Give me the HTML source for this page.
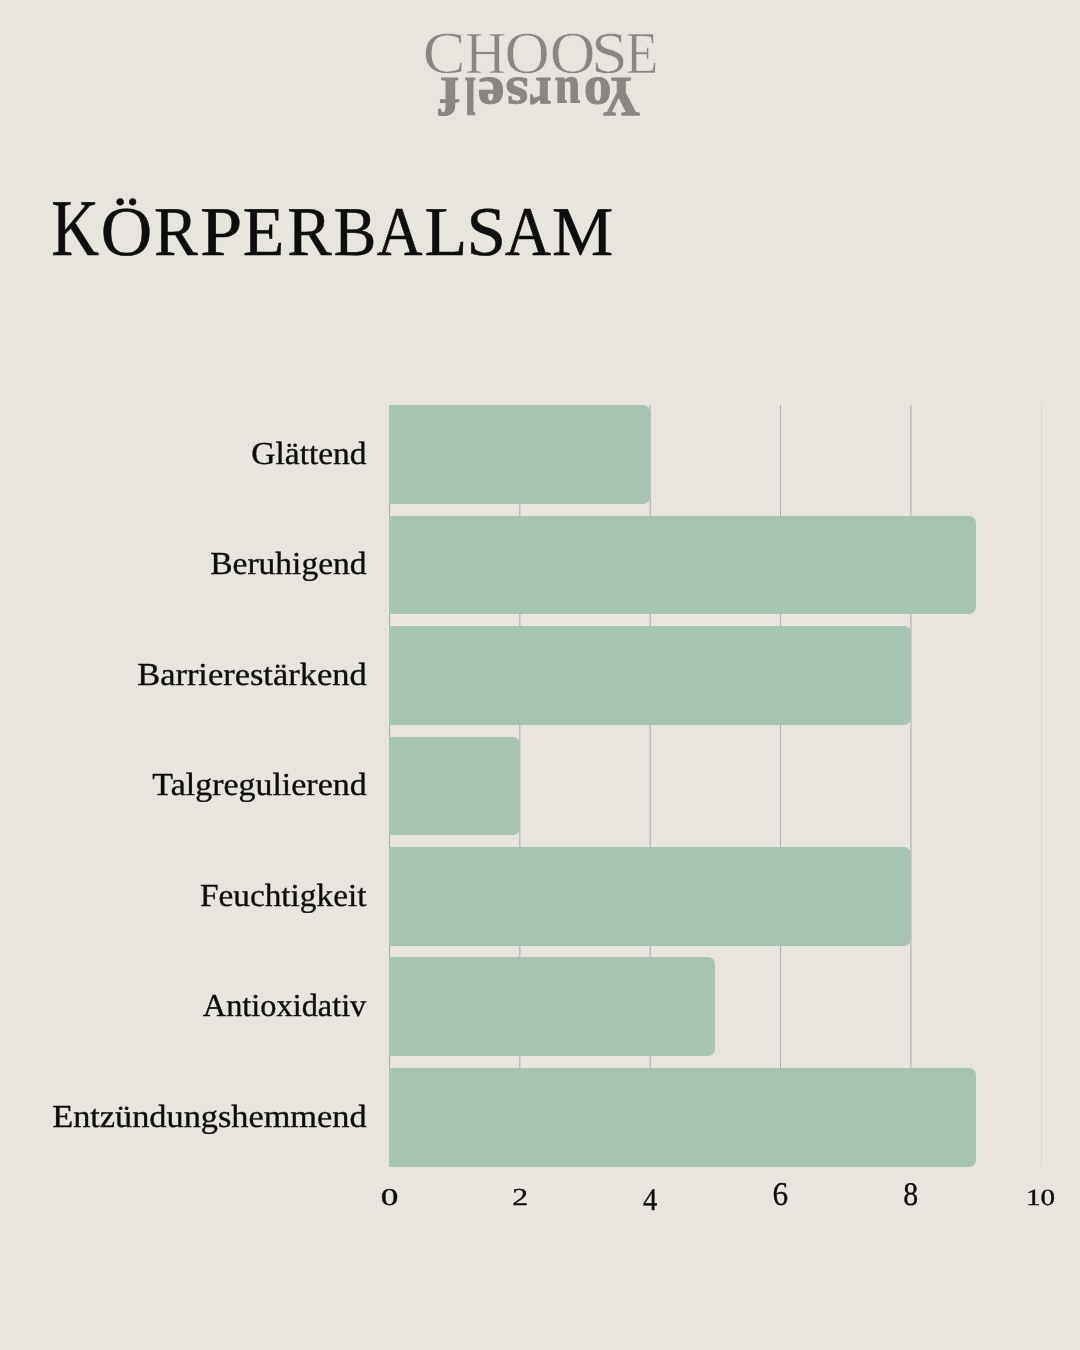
<!DOCTYPE html>
<html lang="de"><head><meta charset="utf-8"><title>Körperbalsam</title>
<style>
html,body{margin:0;padding:0}
body{width:1080px;height:1350px;background:#e8e5df;position:relative;overflow:hidden;font-family:"Liberation Serif",serif;color:#0d0d0d}
.t{position:absolute;left:0;top:0;white-space:nowrap;line-height:1;transform-origin:0 0;display:block;text-rendering:geometricPrecision}
.bar{position:absolute;background:#a7c3b2;border-radius:0 7px 7px 0;left:389.00px;height:98.80px}
.grid{position:absolute;width:1px;background:#acaaa5;top:405px;height:762px}
.logo{color:#8a8681}
.logo .c{-webkit-text-stroke:0.6px #e8e5df}
.logo .y{font-weight:700;-webkit-text-stroke:1.1px #8a8681}
h1,p{margin:0;font-weight:400}
h1 .t{-webkit-text-stroke:0.5px #0d0d0d}
p .t{-webkit-text-stroke:0.35px #0d0d0d}
.k{-webkit-text-stroke:0.35px #0d0d0d}
</style></head><body>

<div class="logo">
<div><span class="t c" style="font-size:58.3px;transform:translate(422.72px,23.43px) scale(1.0993,1.0227)">C</span><span class="t c" style="font-size:58.3px;transform:translate(464.99px,23.43px) scale(0.9694,1.0227)">H</span><span class="t c" style="font-size:58.3px;transform:translate(504.62px,23.43px) scale(1.0730,1.0227)">O</span><span class="t c" style="font-size:58.3px;transform:translate(549.79px,23.43px) scale(1.0855,1.0227)">O</span><span class="t c" style="font-size:58.3px;transform:translate(591.05px,23.43px) scale(1.1375,1.0227)">S</span><span class="t c" style="font-size:58.3px;transform:translate(625.67px,23.43px) scale(0.9110,1.0227)">E</span></div>
<div style="position:absolute;left:0;top:0;width:0;height:0;transform:rotate(180deg);transform-origin:538.95px 96.15px"><span class="t y" style="font-size:58.0px;transform:translate(437.77px,67.03px) scale(0.8924,0.9771)">Y</span><span class="t y" style="font-size:58.0px;transform:translate(466.44px,68.46px) scale(0.9523,0.9498)">o</span><span class="t y" style="font-size:58.0px;transform:translate(497.53px,69.68px) scale(0.7958,0.9222)">u</span><span class="t y" style="font-size:58.0px;transform:translate(526.47px,68.83px) scale(0.8488,0.9491)">r</span><span class="t y" style="font-size:58.0px;transform:translate(549.47px,68.46px) scale(1.0137,0.9453)">s</span><span class="t y" style="font-size:58.0px;transform:translate(573.51px,68.55px) scale(1.0289,0.9472)">e</span><span class="t y" style="font-size:58.0px;transform:translate(602.25px,70.43px) scale(0.6727,0.9125)">l</span><span class="t y" style="font-size:58.0px;transform:translate(618.56px,69.83px) scale(1.0398,0.9204)">f</span></div>
</div>
<h1><span class="t" style="font-size:80.0px;transform:translate(51.35px,188.26px) scale(0.8274,1.0057)">K</span><span class="t" style="font-size:69.5px;transform:translate(100.64px,197.53px) scale(1.0266,1.0038)">Ö</span><span class="t" style="font-size:69.5px;transform:translate(154.00px,197.53px) scale(0.9471,1.0038)">R</span><span class="t" style="font-size:69.5px;transform:translate(200.05px,197.53px) scale(1.0945,1.0038)">P</span><span class="t" style="font-size:69.5px;transform:translate(242.80px,197.53px) scale(0.9786,1.0038)">E</span><span class="t" style="font-size:69.5px;transform:translate(287.16px,197.53px) scale(0.9594,1.0038)">R</span><span class="t" style="font-size:69.5px;transform:translate(333.71px,197.53px) scale(0.9184,1.0038)">B</span><span class="t" style="font-size:69.5px;transform:translate(376.64px,197.53px) scale(0.9117,1.0038)">A</span><span class="t" style="font-size:69.5px;transform:translate(424.42px,197.53px) scale(1.0070,1.0038)">L</span><span class="t" style="font-size:69.5px;transform:translate(466.38px,197.53px) scale(1.0216,1.0038)">S</span><span class="t" style="font-size:69.5px;transform:translate(504.87px,197.53px) scale(0.9215,1.0038)">A</span><span class="t" style="font-size:69.5px;transform:translate(552.07px,197.53px) scale(0.9914,1.0038)">M</span></h1>
<div class="grid" style="left:389px;opacity:1.00"></div>
<div class="grid" style="left:519px;opacity:0.65"></div>
<div class="grid" style="left:520px;opacity:0.35"></div>
<div class="grid" style="left:649px;opacity:0.30"></div>
<div class="grid" style="left:650px;opacity:0.70"></div>
<div class="grid" style="left:780px;opacity:0.95"></div>
<div class="grid" style="left:910px;opacity:0.60"></div>
<div class="grid" style="left:911px;opacity:0.40"></div>
<div class="grid" style="left:1041px;opacity:0.26"></div>
<div class="bar" style="top:405.30px;width:261.00px"></div>
<div class="bar" style="top:515.70px;width:587.25px"></div>
<div class="bar" style="top:626.10px;width:522.00px"></div>
<div class="bar" style="top:736.50px;width:130.50px"></div>
<div class="bar" style="top:846.90px;width:522.00px"></div>
<div class="bar" style="top:957.30px;width:326.25px"></div>
<div class="bar" style="top:1067.70px;width:587.25px;height:99.4px"></div>
<p><span class="t" style="font-size:32px;transform:translate(251.35px,436.55px) scale(1.0452,1.0000)">Glättend</span></p>
<p><span class="t" style="font-size:32px;transform:translate(210.26px,546.72px) scale(1.0466,1.0000)">Beruhigend</span></p>
<p><span class="t" style="font-size:32px;transform:translate(137.19px,657.79px) scale(1.0760,1.0000)">Barrierestärkend</span></p>
<p><span class="t" style="font-size:32px;transform:translate(152.37px,767.66px) scale(1.0600,1.0000)">Talgregulierend</span></p>
<p><span class="t" style="font-size:32px;transform:translate(199.96px,878.73px) scale(1.0405,1.0000)">Feuchtigkeit</span></p>
<p><span class="t" style="font-size:32px;transform:translate(202.84px,988.60px) scale(1.0104,1.0000)">Antioxidativ</span></p>
<p><span class="t" style="font-size:32px;transform:translate(52.21px,1099.67px) scale(1.0719,1.0000)">Entzündungshemmend</span></p>
<span class="t k" style="font-size:24.5px;transform:translate(380.68px,1186.04px) scale(1.4421,0.9814)">0</span>
<span class="t k" style="font-size:24.2px;transform:translate(512.33px,1185.94px) scale(1.3142,1.0104)">2</span>
<span class="t k" style="font-size:30.7px;transform:translate(642.89px,1183.97px) scale(0.9328,1.0298)">4</span>
<span class="t k" style="font-size:32.5px;transform:translate(772.43px,1178.14px) scale(0.9621,1.0206)">6</span>
<span class="t k" style="font-size:32.5px;transform:translate(903.36px,1178.38px) scale(0.9156,1.0139)">8</span>
<span class="t k" style="font-size:23.3px;transform:translate(1026.01px,1186.84px) scale(1.2527,0.9898)">10</span>
</body></html>
